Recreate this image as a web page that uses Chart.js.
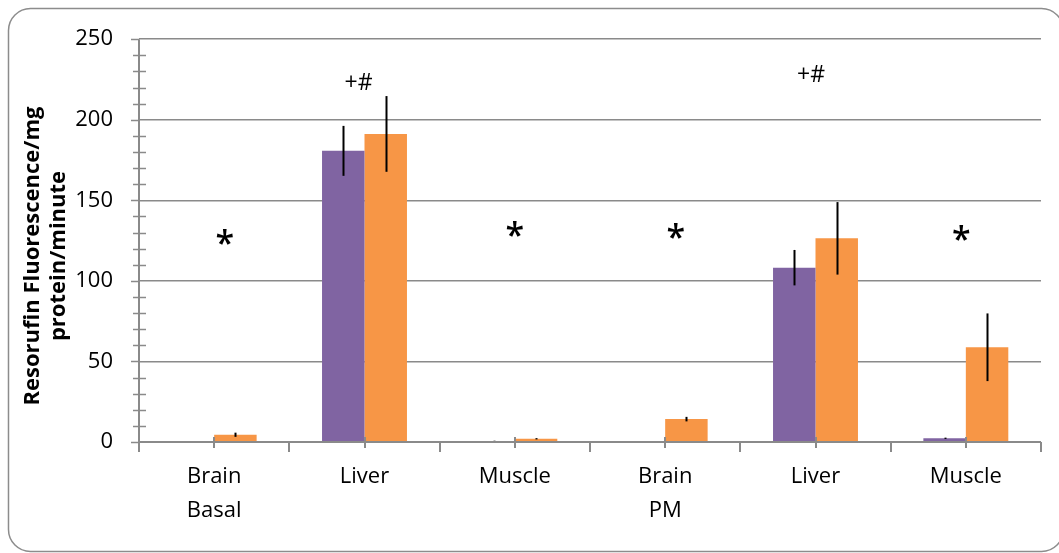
<!DOCTYPE html>
<html>
<head>
<meta charset="utf-8">
<script src="https://cdn.jsdelivr.net/npm/chart.js@4.4.0/dist/chart.umd.min.js"></script>
<style>
  html, body { margin: 0; padding: 0; background: #ffffff; }
  #wrap { width: 1059px; height: 553px; }
</style>
</head>
<body>
<div id="wrap"><canvas id="c" width="1059" height="553"></canvas></div>
<script>
// ---- data ----
const categories = [["Brain", "Basal"], "Liver", "Muscle", ["Brain", "PM"], "Liver", "Muscle"];
const purpleValues = [0.3, 180.7, 0.5, 0.3, 108.2, 2.3];
const purpleErrors = [0.2, 15.5, 0.3, 0.2, 11.0, 0.4];
const orangeValues = [4.5, 191.2, 2.0, 14.2, 126.4, 58.8];
const orangeErrors = [1.3, 23.5, 0.4, 1.4, 22.5, 21.0];
const yTickValues = [0, 50, 100, 150, 200, 250];
const annotationTexts = ["*", "+#", "*", "+#", "*", "*"];
const annotationCategory = [0.07, 0.96, 2.0, 3.97, 3.07, 4.97];
const annotationValues = [127, 224, 132, 229, 131, 130];
const yTitleLines = ["Resorufin Fluorescence/mg", "protein/minute"];

const FONT = "'Open Sans', 'Liberation Sans', sans-serif";
const GRID = '#8a8a8a';

const frame = {
  id: 'frame',
  beforeDraw(chart) {
    const ctx = chart.ctx;
    ctx.save();
    ctx.fillStyle = '#ffffff';
    ctx.fillRect(0, 0, chart.width, chart.height);
    ctx.strokeStyle = '#8c8c8c';
    ctx.lineWidth = 1.5;
    ctx.beginPath();
    ctx.roundRect(8.5, 8.5, 1055, 543, 22);
    ctx.stroke();
    ctx.restore();
  }
};

const axesAndMarks = {
  id: 'axesAndMarks',
  afterDatasetsDraw(chart) {
    const ctx = chart.ctx;
    const xs = chart.scales.x, ys = chart.scales.y;
    const area = chart.chartArea;
    ctx.save();
    // error bars
    ctx.strokeStyle = '#000000';
    ctx.lineWidth = 2;
    const errs = [purpleErrors, orangeErrors];
    chart.data.datasets.forEach((ds, di) => {
      const meta = chart.getDatasetMeta(di);
      meta.data.forEach((el, i) => {
        const v = ds.data[i], e = errs[di][i];
        const top = ys.getPixelForValue(v + e);
        const bot = ys.getPixelForValue(Math.max(0, v - e));
        ctx.beginPath();
        ctx.moveTo(Math.round(el.x) + 0.5, top);
        ctx.lineTo(Math.round(el.x) + 0.5, bot);
        ctx.stroke();
      });
    });
    // axes lines
    ctx.strokeStyle = GRID;
    ctx.lineWidth = 2;
    const y0 = ys.getPixelForValue(0);
    ctx.beginPath();
    ctx.moveTo(area.left, y0);
    ctx.lineTo(area.right, y0);
    ctx.moveTo(area.left, area.top);
    ctx.lineTo(area.left, y0 + 8);
    ctx.stroke();
    // y ticks (major outside, minor crossing)
    ctx.lineWidth = 1.5;
    for (let v = 0; v <= 250; v += 10) {
      const py = Math.round(ys.getPixelForValue(v)) + 0.5;
      ctx.beginPath();
      if (v % 50 === 0) { ctx.moveTo(area.left - 8, py); ctx.lineTo(area.left, py); }
      else { ctx.moveTo(area.left - 6, py); ctx.lineTo(area.left + 7, py); }
      ctx.stroke();
    }
    // x ticks at boundaries and centers
    const n = categories.length;
    const cw = (area.right - area.left) / n;
    ctx.lineWidth = 2;
    for (let k = 0; k <= 2 * n; k++) {
      const px = Math.round(area.left + k * cw / 2);
      ctx.beginPath();
      if (k % 2 === 0) { ctx.moveTo(px, y0); ctx.lineTo(px, y0 + 10); }
      else { ctx.moveTo(px, y0 - 5); ctx.lineTo(px, y0 + 6); }
      ctx.stroke();
    }
    // annotations
    ctx.fillStyle = '#000000';
    annotationTexts.forEach((t, i) => {
      const px = area.left + (annotationCategory[i] + 0.5) * cw;
      const py = ys.getPixelForValue(annotationValues[i]);
      ctx.font = (t === '*') ? `600 34px ${FONT}` : `23px ${FONT}`;
      ctx.textAlign = 'center';
      ctx.textBaseline = 'alphabetic';
      const m = ctx.measureText(t);
      const asc = m.actualBoundingBoxAscent, desc = m.actualBoundingBoxDescent;
      ctx.fillText(t, px, py + (asc - desc) / 2);
    });
    // y title
    ctx.font = `bold 22px ${FONT}`;
    ctx.textAlign = 'center';
    ctx.textBaseline = 'middle';
    const cy = 256;
    const xsT = [33, 59];
    yTitleLines.forEach((line, i) => {
      ctx.save();
      ctx.translate(xsT[i], cy);
      ctx.rotate(-Math.PI / 2);
      ctx.fillText(line, 0, 0);
      ctx.restore();
    });
    ctx.restore();
  }
};

new Chart(document.getElementById('c'), {
  type: 'bar',
  data: {
    labels: categories,
    datasets: [
      { data: purpleValues, backgroundColor: '#8064A2', borderWidth: 0 },
      { data: orangeValues, backgroundColor: '#F79646', borderWidth: 0 }
    ]
  },
  options: {
    responsive: false,
    animation: false,
    events: [],
    layout: { padding: { left: 0, top: 37, right: 18, bottom: 0 } },
    plugins: { legend: { display: false }, tooltip: { enabled: false } },
    datasets: { bar: { categoryPercentage: 0.565, barPercentage: 1.0 } },
    scales: {
      x: {
        grid: { display: false, drawTicks: false },
        border: { display: false },
        ticks: {
          color: '#000000', padding: 17, maxRotation: 0, autoSkip: false,
          font: { family: FONT, size: 22, lineHeight: 1.58 }
        },
        afterFit(s) { s.height = 111; }
      },
      y: {
        min: 0, max: 250,
        afterBuildTicks(s) { s.ticks = yTickValues.map(v => ({ value: v })); },
        grid: { color: GRID, lineWidth: 1.5, drawTicks: false },
        border: { display: false },
        ticks: {
          color: '#000000', padding: 26,
          font: { family: FONT, size: 22 }
        },
        afterFit(s) { s.width = 139; }
      }
    }
  },
  plugins: [frame, axesAndMarks]
});
</script>
</body>
</html>
